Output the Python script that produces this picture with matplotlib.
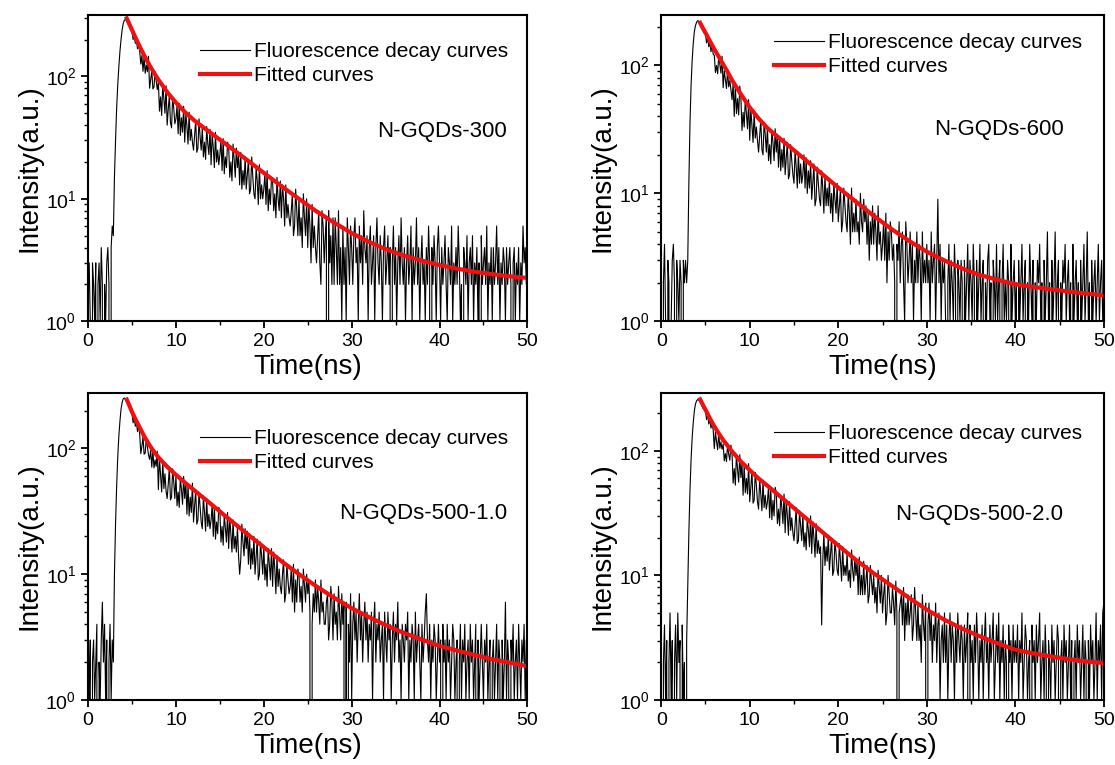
import numpy as np
import matplotlib.pyplot as plt
from matplotlib.ticker import MultipleLocator, LogLocator, NullFormatter

plt.rcParams['font.family'] = ['Liberation Sans', 'DejaVu Sans']
plt.rcParams['mathtext.default'] = 'regular'

# channel width of the TCSPC histogram (ns); 16 channels = 2 ns per row below
t_step = 0.125

# photon counts, one value per channel from t = 0
counts_300 = [
    2, 3, 1, 0, 3, 2, 1, 3, 0, 2, 3, 1, 4, 2, 0, 2,
    1, 3, 4, 2, 0, 4, 6, 5, 15, 30, 55, 85, 120, 160, 200, 240,
    270, 288, 292, 285, 275, 262, 258, 240, 232, 200, 218, 186, 198, 168, 184, 160,
    126, 148, 110, 145, 106, 124, 109, 146, 80, 94, 111, 79, 82, 109, 92, 78,
    90, 52, 68, 48, 86, 66, 50, 84, 40, 54, 70, 42, 38, 68, 55, 41,
    45, 58, 34, 60, 33, 46, 35, 57, 29, 50, 39, 28, 51, 30, 37, 29,
    25, 33, 44, 24, 26, 45, 32, 25, 38, 22, 29, 21, 39, 28, 23, 37,
    19, 34, 26, 18, 35, 20, 25, 19, 23, 30, 17, 31, 16, 22, 18, 29,
    27, 15, 20, 14, 28, 21, 15, 26, 18, 23, 13, 24, 12, 17, 13, 22,
    12, 16, 21, 11, 12, 22, 15, 11, 10, 18, 14, 9, 19, 10, 13, 10,
    12, 16, 9, 17, 8, 12, 9, 15, 14, 8, 11, 7, 15, 10, 8, 14,
    7, 13, 10, 6, 13, 7, 9, 7, 6, 8, 11, 5, 6, 12, 8, 5,
    10, 5, 7, 4, 11, 7, 5, 10, 4, 9, 6, 3, 9, 4, 6, 4,
    3, 5, 8, 3, 2, 8, 6, 3, 5, 7, 0, 8, 3, 5, 2, 7,
    2, 7, 4, 2, 8, 2, 4, 1, 6, 2, 4, 1, 7, 4, 2, 6,
    4, 2, 5, 7, 3, 4, 1, 6, 3, 5, 2, 8, 4, 3, 5, 1,
    4, 6, 2, 3, 5, 1, 4, 7, 3, 2, 5, 3, 1, 4, 6, 2,
    3, 5, 2, 4, 0, 3, 6, 2, 4, 1, 3, 5, 2, 7, 3, 2,
    4, 1, 3, 5, 2, 3, 6, 1, 4, 2, 3, 7, 2, 4, 1, 3,
    5, 2, 3, 1, 4, 2, 6, 3, 0, 4, 2, 5, 3, 1, 4, 6,
    3, 1, 4, 2, 3, 5, 2, 1, 4, 3, 2, 6, 1, 3, 2, 4,
    2, 6, 3, 1, 2, 0, 4, 3, 2, 5, 1, 3, 4, 2, 5, 1,
    3, 2, 4, 1, 3, 0, 5, 2, 3, 4, 2, 6, 1, 3, 2, 4,
    1, 4, 2, 3, 6, 2, 4, 1, 3, 2, 4, 3, 1, 4, 2, 3,
    4, 2, 0, 3, 4, 1, 3, 2, 4, 1, 3, 2, 6, 3, 4, 2,
    3,
]
counts_600 = [
    3, 0, 2, 4, 1, 0, 3, 2, 0, 1, 3, 4, 2, 0, 3, 2,
    1, 3, 2, 0, 3, 2, 3, 2, 3, 12, 35, 70, 110, 150, 185, 205,
    218, 224, 222, 212, 200, 196, 188, 178, 176, 150, 165, 140, 152, 128, 146, 122,
    120, 88, 100, 86, 119, 101, 87, 118, 67, 91, 77, 66, 92, 68, 76, 65,
    54, 72, 40, 70, 42, 55, 41, 69, 57, 31, 43, 33, 55, 42, 32, 54,
    26, 46, 34, 25, 44, 27, 33, 26, 21, 28, 38, 22, 20, 36, 29, 21,
    33, 18, 24, 17, 31, 25, 18, 32, 21, 29, 16, 28, 15, 22, 16, 27,
    14, 19, 25, 13, 14, 24, 18, 14, 12, 22, 16, 11, 21, 12, 17, 12,
    14, 20, 11, 19, 10, 15, 11, 18, 9, 12, 17, 8, 9, 16, 12, 9,
    8, 15, 11, 7, 14, 8, 11, 8, 13, 7, 10, 6, 12, 9, 7, 12,
    6, 8, 11, 5, 6, 11, 8, 6, 5, 10, 7, 4, 11, 5, 7, 5,
    9, 5, 6, 4, 10, 6, 5, 9, 6, 8, 4, 7, 3, 6, 4, 8,
    4, 7, 5, 3, 8, 4, 5, 3, 4, 6, 3, 7, 2, 5, 3, 6,
    5, 3, 4, 2, 0, 4, 3, 6, 2, 4, 5, 2, 1, 6, 4, 2,
    3, 5, 2, 4, 1, 3, 2, 5, 2, 4, 3, 1, 5, 2, 3, 2,
    4, 2, 3, 1, 5, 2, 3, 4, 1, 3, 9, 2, 4, 1, 3, 2,
    3, 1, 0, 2, 4, 1, 3, 2, 1, 4, 2, 0, 3, 2, 1, 3,
    2, 0, 3, 1, 2, 4, 1, 3, 2, 1, 4, 2, 0, 3, 1, 2,
    4, 1, 2, 3, 0, 2, 1, 3, 4, 1, 2, 0, 3, 2, 1, 4,
    1, 2, 3, 0, 2, 4, 1, 2, 1, 3, 2, 0, 4, 1, 2, 3,
    1, 2, 0, 3, 1, 2, 4, 1, 2, 3, 0, 2, 1, 4, 2, 1,
    3, 0, 2, 1, 3, 2, 4, 1, 2, 0, 3, 1, 2, 5, 1, 2,
    0, 3, 1, 2, 5, 1, 2, 3, 0, 2, 1, 3, 2, 4, 1, 2,
    3, 1, 2, 0, 4, 1, 2, 3, 1, 2, 0, 3, 1, 2, 4, 1,
    2, 5, 1, 2, 0, 3, 1, 2, 3, 1, 2, 4, 1, 2, 3, 1,
    2,
]
counts_500_1 = [
    2, 1, 3, 0, 2, 3, 1, 2, 4, 0, 2, 1, 3, 6, 2, 4,
    1, 3, 0, 2, 4, 1, 3, 2, 10, 25, 50, 85, 125, 165, 205, 232,
    248, 252, 245, 236, 230, 218, 210, 196, 190, 160, 176, 150, 162, 136, 152, 130,
    91, 104, 124, 90, 92, 123, 103, 89, 82, 97, 71, 96, 70, 81, 72, 95,
    47, 84, 62, 45, 80, 48, 63, 46, 40, 52, 71, 39, 41, 69, 54, 40,
    61, 35, 45, 34, 59, 47, 36, 60, 40, 54, 30, 52, 29, 41, 31, 53,
    26, 35, 47, 25, 27, 45, 34, 26, 23, 42, 31, 22, 40, 24, 30, 23,
    27, 36, 20, 35, 19, 26, 21, 34, 32, 18, 24, 17, 30, 23, 18, 31,
    16, 28, 21, 15, 27, 16, 20, 15, 24, 14, 10, 13, 25, 18, 14, 23,
    16, 22, 12, 21, 11, 16, 12, 20, 10, 14, 19, 9, 10, 18, 14, 10,
    17, 9, 12, 8, 16, 12, 9, 16, 8, 15, 11, 7, 14, 8, 11, 8,
    7, 10, 13, 6, 7, 12, 9, 7, 8, 11, 6, 12, 5, 9, 6, 11,
    10, 6, 8, 5, 11, 8, 6, 10, 7, 9, 5, 0, 4, 7, 5, 9,
    5, 8, 6, 4, 9, 5, 6, 4, 4, 6, 7, 3, 4, 8, 6, 3,
    7, 4, 5, 3, 8, 5, 3, 7, 4, 6, 0, 6, 0, 4, 2, 7,
    1, 4, 6, 3, 5, 2, 4, 7, 3, 5, 2, 4, 6, 3, 5, 2,
    4, 3, 5, 1, 4, 6, 2, 4, 3, 5, 2, 3, 4, 1, 5, 3,
    2, 5, 3, 4, 1, 3, 5, 2, 4, 3, 6, 2, 3, 1, 4, 3,
    2, 4, 3, 5, 1, 3, 2, 4, 3, 1, 5, 2, 3, 4, 2, 1,
    4, 2, 3, 5, 7, 3, 2, 4, 1, 3, 2, 4, 3, 1, 2, 4,
    2, 3, 0, 4, 2, 3, 1, 4, 2, 3, 1, 2, 4, 3, 1, 2,
    3, 0, 2, 4, 1, 3, 2, 4, 1, 2, 3, 1, 4, 2, 3, 1,
    2, 4, 0, 3, 1, 2, 4, 2, 1, 3, 2, 4, 1, 2, 3, 0,
    2, 3, 1, 2, 4, 1, 3, 2, 0, 3, 1, 2, 6, 1, 3, 2,
    0, 3, 2, 4, 1, 2, 3, 1, 4, 2, 1, 3, 2, 4, 1, 3,
    2,
]
counts_500_2 = [
    3, 0, 2, 4, 1, 3, 0, 2, 5, 1, 3, 0, 2, 4, 1, 5,
    2, 3, 0, 4, 1, 2, 0, 3, 8, 22, 48, 85, 128, 170, 210, 238,
    252, 258, 255, 248, 240, 228, 218, 220, 210, 178, 196, 164, 180, 152, 170, 146,
    104, 142, 119, 102, 140, 105, 118, 103, 113, 83, 95, 82, 112, 94, 84, 111,
    96, 55, 72, 53, 94, 71, 56, 93, 61, 80, 44, 78, 46, 60, 45, 79,
    39, 51, 69, 38, 40, 67, 53, 39, 34, 60, 45, 33, 58, 35, 44, 34,
    39, 52, 29, 50, 28, 40, 30, 51, 46, 26, 34, 25, 44, 35, 26, 45,
    22, 40, 30, 21, 39, 23, 29, 22, 19, 26, 35, 18, 19, 33, 25, 19,
    31, 17, 22, 16, 29, 23, 17, 30, 15, 27, 20, 14, 26, 15, 19, 15,
    17, 4, 13, 22, 12, 17, 13, 21, 11, 15, 20, 10, 11, 19, 15, 11,
    10, 18, 13, 9, 17, 10, 12, 10, 15, 9, 11, 8, 16, 11, 9, 14,
    10, 13, 7, 14, 7, 10, 7, 13, 7, 9, 12, 6, 7, 12, 9, 7,
    10, 6, 8, 5, 11, 8, 6, 10, 5, 7, 9, 4, 5, 10, 7, 5,
    5, 8, 6, 4, 9, 5, 0, 5, 6, 7, 4, 8, 3, 6, 4, 7,
    4, 5, 7, 3, 4, 8, 5, 3, 6, 3, 4, 2, 7, 4, 3, 6,
    0, 4, 6, 3, 5, 2, 4, 3, 6, 2, 4, 5, 1, 3, 4, 2,
    5, 2, 4, 1, 3, 5, 2, 4, 3, 1, 4, 2, 5, 3, 2, 4,
    3, 1, 4, 2, 3, 5, 0, 4, 2, 3, 1, 4, 2, 5, 3, 1,
    3, 2, 4, 1, 3, 5, 2, 3, 1, 4, 2, 3, 5, 1, 2, 4,
    2, 5, 1, 3, 2, 4, 1, 3, 2, 0, 4, 2, 3, 1, 4, 2,
    3, 2, 4, 1, 3, 2, 5, 1, 2, 4, 3, 1, 2, 3, 0, 4,
    2, 3, 1, 4, 2, 3, 5, 1, 2, 3, 1, 4, 2, 0, 3, 2,
    1, 4, 2, 3, 1, 2, 4, 3, 0, 2, 3, 1, 4, 2, 3, 1,
    2, 4, 1, 3, 0, 2, 3, 1, 4, 2, 3, 1, 2, 4, 1, 3,
    2, 0, 3, 1, 4, 2, 3, 1, 2, 5, 1, 3, 2, 4, 1, 5,
    6,
]

# fitted decay curves, sampled at these times (ns)
fit_t = [4.4, 4.7, 5, 5.5, 6, 6.5, 7, 7.5, 8, 9, 10, 11, 12, 13, 14, 16, 18,
         20, 22, 24, 26, 28, 30, 32, 34, 36, 38, 40, 42, 44, 46, 48, 50]
fit_300 = [298, 267, 239, 200, 168, 143, 123, 107, 94, 74.5, 61, 51.3, 44.2,
           38.9, 34.4, 26.9, 21.0, 16.3, 12.7, 10.0, 7.9, 6.4, 5.25, 4.44, 3.85,
           3.43, 3.13, 2.88, 2.69, 2.54, 2.43, 2.33, 2.26]
fit_600 = [215, 196, 180, 155, 134, 117, 102, 89, 76.7, 59.6, 47, 38.5, 32.4,
           28.3, 24.8, 19.0, 14.5, 11.1, 8.6, 6.68, 5.27, 4.25, 3.5, 2.99, 2.59,
           2.3, 2.11, 1.95, 1.86, 1.78, 1.71, 1.65, 1.6]
fit_500_1 = [245, 219, 195, 165, 141, 121, 106, 94.4, 85, 71.6, 61.7, 53.7, 47,
             41.2, 36.1, 27.6, 21.2, 16.4, 12.7, 10.0, 8.0, 6.5, 5.37, 4.55, 3.9,
             3.4, 3.02, 2.69, 2.47, 2.28, 2.11, 1.98, 1.86]
fit_500_2 = [259, 234, 214, 182, 157, 138, 122, 110, 99, 82, 70, 60, 52.5,
             45.7, 39.8, 30.2, 22.9, 17.4, 13.3, 10.4, 8.3, 6.6, 5.3, 4.4, 3.74,
             3.24, 2.85, 2.53, 2.37, 2.24, 2.13, 2.04, 1.98]

samples = ['N-GQDs-300', 'N-GQDs-600', 'N-GQDs-500-1.0', 'N-GQDs-500-2.0']
all_counts = [counts_300, counts_600, counts_500_1, counts_500_2]
all_fits = [fit_300, fit_600, fit_500_1, fit_500_2]

# layout of the four panels (figure fractions) and per-panel placement
rects = [[0.079, 0.580, 0.394, 0.401], [0.593, 0.580, 0.397, 0.401],
         [0.079, 0.085, 0.394, 0.401], [0.593, 0.085, 0.397, 0.401]]
ytops = [320, 250, 275, 290]
leg_pos = [(0.255, 0.91), (0.255, 0.94), (0.255, 0.883), (0.255, 0.90)]
name_pos = [(0.806, 0.619), (0.763, 0.625), (0.763, 0.609), (0.718, 0.603)]

fig = plt.figure(figsize=(11.15, 7.65), dpi=100)

for i in range(4):
    ax = fig.add_axes(rects[i])
    y = np.array(all_counts[i], dtype=float)
    t = np.arange(len(y)) * t_step
    ax.plot(t, y, color='black', lw=0.8, label='Fluorescence decay curves')
    ax.plot(fit_t, all_fits[i], color='#ee1111', lw=3, label='Fitted curves')

    ax.set_yscale('log', nonpositive='clip')
    ax.set_xlim(0, 50)
    ax.set_ylim(1, ytops[i])
    ax.xaxis.set_major_locator(MultipleLocator(10))
    ax.xaxis.set_minor_locator(MultipleLocator(5))
    ax.yaxis.set_major_locator(LogLocator(base=10))
    ax.yaxis.set_minor_locator(LogLocator(base=10, subs=np.arange(2, 10)))
    ax.yaxis.set_minor_formatter(NullFormatter())
    ax.tick_params(which='major', direction='out', length=5, width=1.3, labelsize=14)
    ax.tick_params(which='minor', direction='out', length=3, width=1.0)
    for s in ax.spines.values():
        s.set_linewidth(1.5)

    ax.set_xlabel('Time(ns)', fontsize=20, labelpad=3)
    ax.set_ylabel('Intensity(a.u.)', fontsize=20, labelpad=2)

    ax.legend(loc='upper left', bbox_to_anchor=leg_pos[i], frameon=False,
              fontsize=15, handlelength=2.4, handletextpad=0.2,
              labelspacing=0.25, borderpad=0, borderaxespad=0)
    ax.text(name_pos[i][0], name_pos[i][1], samples[i], transform=ax.transAxes,
            fontsize=16, ha='center', va='center')

fig.savefig('out.png', dpi=100)
